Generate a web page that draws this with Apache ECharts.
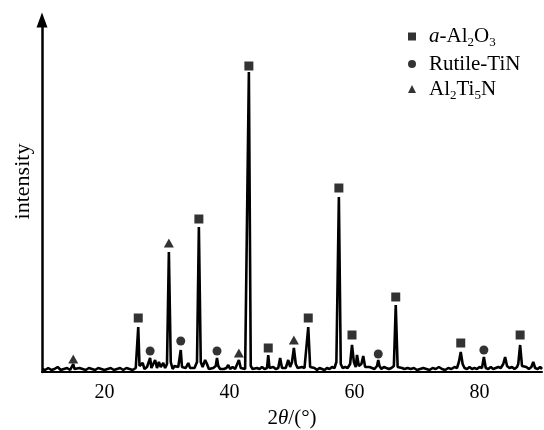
<!DOCTYPE html>
<html style="height: 100%">
<head>
    <meta charset="utf-8">
    <script src="https://cdn.jsdelivr.net/npm/echarts@6/dist/echarts.min.js"></script>
</head>
<body style="height: 100%; margin: 0; background: #fff">
    <div id="main" style="width:544px; height:430px;"></div>
    <script type="text/javascript">
    // XRD pattern: [2theta, intensity] (arbitrary units)
    var pattern = [
        [10.0, 3], [10.5, 2], [11.0, 4], [11.5, 2], [12.0, 3], [12.5, 5], [13.0, 2], [13.5, 3],
        [14.0, 4], [14.5, 2], [14.8, 3], [15.0, 8], [15.2, 3], [15.5, 2], [16.0, 4], [16.5, 3],
        [17.0, 2], [17.5, 4], [18.0, 3], [18.5, 2], [19.0, 4], [19.5, 3], [20.0, 2], [20.5, 3],
        [21.0, 4], [21.5, 2], [22.0, 3], [22.5, 4], [23.0, 2], [23.5, 4], [24.0, 3], [24.5, 2],
        [25.0, 4], [25.2, 6], [25.4, 45], [25.6, 6], [25.8, 4], [26.1, 9], [26.4, 3], [26.8, 5],
        [27.1, 5], [27.3, 14], [27.5, 4], [27.8, 5], [28.1, 12], [28.4, 4], [28.7, 10], [29.0, 5],
        [29.4, 9], [29.7, 4], [30.0, 8], [30.3, 120], [30.6, 10], [30.9, 3], [31.2, 6], [31.5, 4],
        [31.8, 5], [32.0, 6], [32.2, 22], [32.4, 5], [32.7, 3], [33.0, 4], [33.4, 9], [33.7, 4],
        [34.0, 6], [34.4, 4], [34.8, 10], [35.1, 145], [35.4, 10], [35.7, 5], [36.1, 12], [36.4, 8],
        [36.7, 3], [37.0, 5], [37.4, 4], [37.8, 6], [38.0, 14], [38.2, 6], [38.5, 3], [38.8, 5],
        [39.1, 3], [39.5, 4], [39.8, 7], [40.1, 3], [40.5, 5], [40.9, 3], [41.2, 4], [41.5, 12],
        [41.8, 4], [42.1, 6], [42.5, 3], [42.8, 5], [43.1, 300], [43.4, 6], [43.7, 3], [44.0, 5],
        [44.4, 4], [44.8, 3], [45.2, 5], [45.6, 3], [46.0, 4], [46.2, 17], [46.4, 4], [46.7, 3],
        [47.0, 5], [47.4, 3], [47.8, 4], [48.1, 14], [48.4, 4], [48.7, 5], [49.0, 4], [49.4, 12],
        [49.7, 5], [50.0, 10], [50.3, 24], [50.6, 8], [50.9, 4], [51.2, 3], [51.6, 5], [52.0, 4],
        [52.3, 6], [52.6, 45], [52.9, 5], [53.2, 3], [53.6, 4], [54.0, 2], [54.4, 4], [54.8, 3],
        [55.2, 2], [55.6, 4], [56.0, 3], [56.4, 5], [56.8, 4], [57.1, 10], [57.5, 175], [57.8, 8],
        [58.1, 4], [58.5, 5], [58.9, 4], [59.3, 8], [59.6, 27], [59.9, 10], [60.2, 5], [60.4, 17],
        [60.7, 6], [61.1, 8], [61.4, 16], [61.7, 5], [62.0, 3], [62.4, 5], [62.8, 4], [63.2, 3],
        [63.6, 6], [63.8, 12], [64.0, 6], [64.3, 3], [64.7, 5], [65.1, 4], [65.5, 3], [65.9, 4],
        [66.3, 6], [66.6, 67], [66.9, 5], [67.2, 3], [67.6, 4], [68.0, 3], [68.5, 4], [69.0, 3],
        [69.5, 4], [70.0, 2], [70.5, 3], [71.0, 4], [71.5, 3], [72.0, 2], [72.5, 4], [73.0, 3],
        [73.5, 5], [74.0, 3], [74.5, 2], [75.0, 4], [75.5, 3], [76.0, 5], [76.4, 4], [76.7, 10],
        [77.0, 20], [77.3, 8], [77.6, 4], [78.0, 3], [78.4, 5], [78.8, 3], [79.2, 4], [79.6, 3],
        [80.0, 5], [80.4, 4], [80.7, 15], [81.0, 4], [81.4, 3], [81.8, 5], [82.2, 3], [82.6, 4],
        [83.0, 5], [83.4, 4], [83.8, 8], [84.1, 15], [84.4, 6], [84.8, 4], [85.2, 5], [85.6, 3],
        [86.0, 5], [86.2, 8], [86.5, 27], [86.8, 6], [87.1, 4], [87.5, 5], [87.9, 3], [88.3, 5],
        [88.6, 10], [88.9, 4], [89.3, 3], [89.7, 5], [90.0, 3]
    ];

    // phase markers placed just above their peaks
    var aluminaPeaks = [[25.4, 54], [35.1, 153], [43.1, 306], [46.2, 24], [52.6, 54],
        [57.5, 184], [59.6, 37], [66.6, 75], [77.0, 29], [86.5, 37]];
    var rutilePeaks = [[27.3, 21], [32.2, 31], [38.0, 21], [63.8, 18], [80.7, 22]];
    var nitridePeaks = [[15.0, 13], [30.3, 129], [41.5, 19], [50.3, 32]];

    var xTicks = [20, 40, 60, 80];

    var serif = 'Liberation Serif';
    var myChart = echarts.init(document.getElementById('main'));

    var legendText = {
        'a-Al2O3': '{p| }{i|a}{n|-Al}{s|2}{n|O}{s|3}',
        'Rutile-TiN': '{p| }{n|Rutile-TiN}',
        'Al2Ti5N': '{p| }{n|Al}{s|2}{n|Ti}{s|5}{n|N}'
    };

    var option = {
        animation: false,
        grid: { left: 42, right: 2, top: 20, bottom: 58, outerBoundsMode: 'none' },
        legend: {
            orient: 'vertical',
            left: 403,
            top: 21,
            itemWidth: 8,
            itemHeight: 8,
            itemGap: 4,
            data: ['a-Al2O3', 'Rutile-TiN', 'Al2Ti5N'],
            formatter: function (name) { return legendText[name]; },
            textStyle: {
                fontFamily: serif,
                color: '#000',
                rich: {
                    p: { width: 8, fontSize: 21, lineHeight: 26 },
                    n: { fontFamily: serif, fontSize: 21, lineHeight: 26, color: '#000' },
                    i: { fontFamily: serif, fontSize: 21, lineHeight: 26, fontStyle: 'italic', color: '#000' },
                    s: { fontFamily: serif, fontSize: 13, lineHeight: 13, verticalAlign: 'bottom', color: '#000' }
                }
            }
        },
        xAxis: {
            type: 'value',
            min: 10,
            max: 90,
            interval: 10,
            name: '2{i|θ}/(°)',
            nameLocation: 'middle',
            nameGap: 36,
            nameTextStyle: {
                fontFamily: serif, fontSize: 21, color: '#000',
                rich: { i: { fontFamily: serif, fontSize: 21, fontStyle: 'italic', color: '#000' } }
            },
            axisLine: { lineStyle: { color: '#000', width: 2 } },
            axisTick: { show: false },
            splitLine: { show: false },
            axisLabel: {
                fontFamily: serif, fontSize: 20, color: '#000', margin: 11,
                formatter: function (v) { return xTicks.indexOf(v) >= 0 ? String(v) : ''; }
            }
        },
        yAxis: {
            type: 'value',
            min: 0,
            max: 352,
            name: 'intensity',
            nameLocation: 'middle',
            nameGap: 8,
            nameTextStyle: { fontFamily: serif, fontSize: 22, color: '#000', padding: [0, 0, 0, 29] },
            axisLine: {
                show: true,
                symbol: ['none', 'triangle'],
                symbolSize: [11, 15],
                lineStyle: { color: '#000', width: 2.5 }
            },
            axisTick: { show: false },
            axisLabel: { show: false },
            splitLine: { show: false }
        },
        series: [
            {
                name: 'pattern',
                type: 'line',
                data: pattern,
                symbol: 'none',
                lineStyle: { color: '#000', width: 2.6 },
                z: 2
            },
            {
                name: 'a-Al2O3',
                type: 'scatter',
                symbol: 'rect',
                symbolSize: 9,
                data: aluminaPeaks,
                itemStyle: { color: '#000' }
            },
            {
                name: 'Rutile-TiN',
                type: 'scatter',
                symbol: 'circle',
                symbolSize: 9,
                data: rutilePeaks,
                itemStyle: { color: '#000' }
            },
            {
                name: 'Al2Ti5N',
                type: 'scatter',
                symbol: 'triangle',
                symbolSize: [10, 9],
                data: nitridePeaks,
                itemStyle: { color: '#000' }
            }
        ]
    };

    myChart.setOption(option);
    </script>
</body>
</html>
